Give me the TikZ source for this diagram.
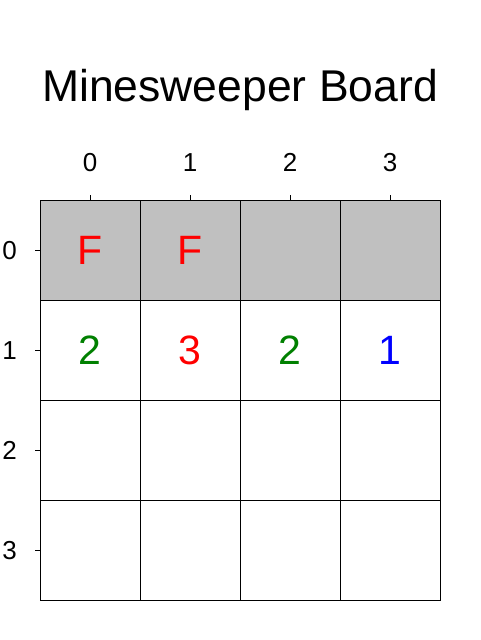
\documentclass[tikz,border=0pt]{standalone}
\usepackage{fontspec}
\setmainfont{Liberation Sans}
\definecolor{cellgray}{HTML}{C0C0C0}
\definecolor{numgreen}{HTML}{008000}
\definecolor{numred}{HTML}{FF0000}
\definecolor{numblue}{HTML}{0000FF}
\begin{document}
\begin{tikzpicture}[x=1pt,y=-1pt,
  cell/.style={draw=black,line width=1pt,minimum size=100pt,inner sep=0pt,outer sep=0pt,anchor=center,
    font=\fontsize{41}{44}\selectfont},
  revealed/.style={cell,fill=white},
  hidden/.style={cell,fill=cellgray},
  ticklabel/.style={inner sep=0pt,anchor=base,font=\fontsize{26}{28}\selectfont},
  tickline/.style={line width=1pt},
  titletext/.style={inner sep=0pt,anchor=base,font=\fontsize{44.5}{50}\selectfont}]
\useasboundingbox (0,0) rectangle (480,640);
\node[titletext] (title) at (240,101) {Minesweeper Board};
% row 0
\node[hidden] (c00) at (90,250) {\textcolor{numred}{F}};
\node[hidden] (c01) at (190,250) {\textcolor{numred}{F}};
\node[hidden] (c02) at (290,250) {};
\node[hidden] (c03) at (390,250) {};
% row 1
\node[revealed] (c10) at (90,350) {\textcolor{numgreen}{2}};
\node[revealed] (c11) at (190,350) {\textcolor{numred}{3}};
\node[revealed] (c12) at (290,350) {\textcolor{numgreen}{2}};
\node[revealed] (c13) at (390,350) {\textcolor{numblue}{1}};
% row 2
\node[revealed] (c20) at (90,450) {};
\node[revealed] (c21) at (190,450) {};
\node[revealed] (c22) at (290,450) {};
\node[revealed] (c23) at (390,450) {};
% row 3
\node[revealed] (c30) at (90,550) {};
\node[revealed] (c31) at (190,550) {};
\node[revealed] (c32) at (290,550) {};
\node[revealed] (c33) at (390,550) {};
% column ticks
\foreach \c/\x in {0/90,1/190,2/290,3/390}{
  \coordinate (ct\c) at (\x,195);
  \draw[tickline] (c0\c.north) -- (ct\c);
  \node[ticklabel] (cl\c) at (\x,171) {\c};
}
% row ticks
\foreach \r/\y in {0/250,1/350,2/450,3/550}{
  \coordinate (rt\r) at (35,\y);
  \draw[tickline] (c\r0.west) -- (rt\r);
  \node[ticklabel,anchor=base east] (rl\r) at (17,\y+9.5) {\r};
}
\end{tikzpicture}
\end{document}
